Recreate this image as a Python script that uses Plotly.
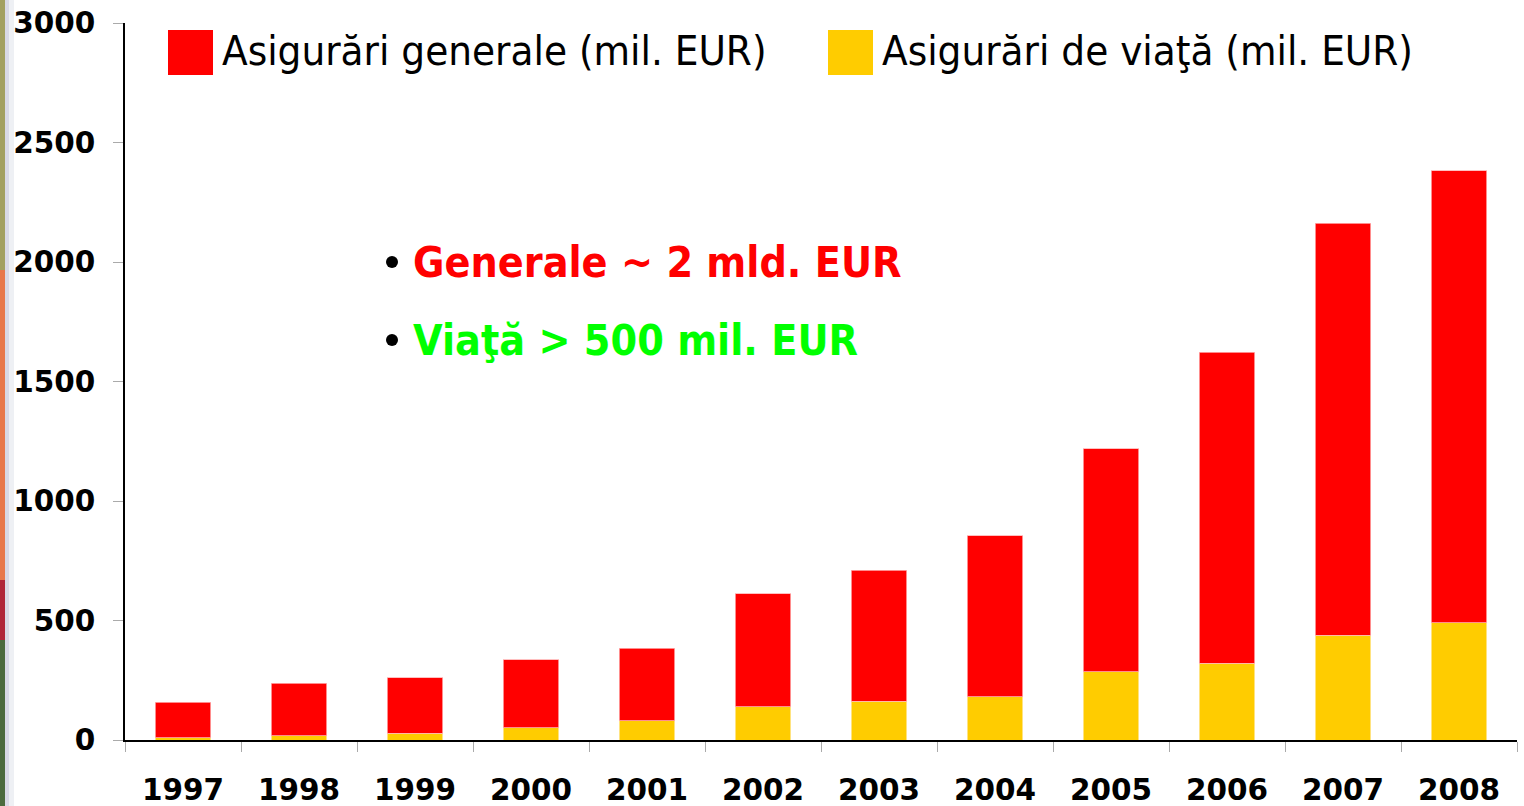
import plotly.graph_objects as go

years = ["1997", "1998", "1999", "2000", "2001", "2002", "2003", "2004", "2005", "2006", "2007", "2008"]
viata = [10, 18, 29, 51, 80, 139, 163, 181, 285, 322, 439, 490]
generale = [149, 220, 232, 285, 304, 472, 548, 673, 933, 1301, 1724, 1891]
y_ticks = [0, 500, 1000, 1500, 2000, 2500, 3000]

name_gen = "Asigurări generale (mil. EUR)"
name_via = "Asigurări de viaţă (mil. EUR)"
note_gen = "Generale ~ 2 mld. EUR"
note_via = "Viaţă > 500 mil. EUR"

RED = "#FF0000"
YEL = "#FFCC00"
GRN = "#00FF00"

fig = go.Figure()
fig.add_trace(go.Bar(x=years, y=viata, name=name_via, marker=dict(color=YEL, line=dict(color="#ffe9a0", width=0.8))))
fig.add_trace(go.Bar(x=years, y=generale, name=name_gen, marker=dict(color=RED, line=dict(color="#ffb0b0", width=0.8))))

W, H = 1524, 806
ml, mr, mt, mb = 125, 7, 23, 66
pw, ph = W - ml - mr, H - mt - mb

def px(x):
    return (x - ml) / pw

def py(y):
    return 1 - (y - mt) / ph

def prect(x0, x1, y0, y1, color):
    return dict(type="rect", xref="paper", yref="paper", x0=px(x0), x1=px(x1), y0=py(y1), y1=py(y0),
                fillcolor=color, line=dict(width=0), layer="below")

legend_font = dict(family="DejaVu Sans Condensed, DejaVu Sans", size=41.7, color="black")
note_font = dict(family="DejaVu Sans Condensed, DejaVu Sans", size=42.6, weight="bold")
shapes = [
    # decorative slide edge on the left
    prect(0, 5, 0, 270, "#a3a061"),
    prect(0, 5, 270, 580, "#e8784c"),
    prect(0, 5, 580, 640, "#b0263a"),
    prect(0, 5, 640, 806, "#4d6b3f"),
    prect(5, 9, 0, 806, "#d9d9e6"),
    prect(9, 14, 0, 806, "#eef0f4"),
    # legend swatches
    prect(168, 213, 30, 75, RED),
    prect(828, 873, 30, 75, YEL),
    # bullets
    dict(type="circle", xref="paper", yref="paper", x0=px(386), x1=px(398), y0=py(268), y1=py(256),
         fillcolor="black", line=dict(width=0)),
    dict(type="circle", xref="paper", yref="paper", x0=px(386), x1=px(398), y0=py(346), y1=py(334),
         fillcolor="black", line=dict(width=0)),
]
annotations = [
    dict(xref="paper", yref="paper", x=px(220), y=py(50), text=name_gen, showarrow=False,
         xanchor="left", yanchor="middle", font=legend_font),
    dict(xref="paper", yref="paper", x=px(880), y=py(50), text=name_via, showarrow=False,
         xanchor="left", yanchor="middle", font=legend_font),
    dict(xref="paper", yref="paper", x=px(411), y=py(262), text=note_gen,
         showarrow=False, xanchor="left", yanchor="middle", font=dict(note_font, color=RED)),
    dict(xref="paper", yref="paper", x=px(411), y=py(340), text=note_via,
         showarrow=False, xanchor="left", yanchor="middle", font=dict(note_font, color=GRN)),
]

fig.update_layout(
    barmode="stack",
    bargap=0.52,
    width=W, height=H,
    margin=dict(l=ml, r=mr, t=mt, b=mb, pad=0),
    paper_bgcolor="white",
    plot_bgcolor="white",
    showlegend=False,
    shapes=shapes,
    annotations=annotations,
    xaxis=dict(
        type="category",
        automargin=False,
        tickson="boundaries",
        ticks="outside", ticklen=10, tickcolor="#aaaaaa", tickwidth=1,
        showline=True, linecolor="black", linewidth=1.5,
        showgrid=False,
        tickfont=dict(family="DejaVu Sans", size=29.5, color="black", weight="bold"),
        ticklabelstandoff=23,
        ticklabeloverflow="allow",
    ),
    yaxis=dict(
        range=[0, 3000],
        automargin=False,
        tickvals=y_ticks,
        ticks="outside", ticklen=10, tickcolor="#aaaaaa", tickwidth=1,
        showline=True, linecolor="black", linewidth=1.5,
        showgrid=False, zeroline=False,
        tickfont=dict(family="DejaVu Sans", size=29.5, color="black", weight="bold"),
        ticklabelstandoff=12,
        ticklabeloverflow="allow",
    ),
)

fig.write_html(
    "out.html",
    config={"displayModeBar": False},
    post_script="document.body.style.margin='0';document.body.style.overflow='hidden';",
)
